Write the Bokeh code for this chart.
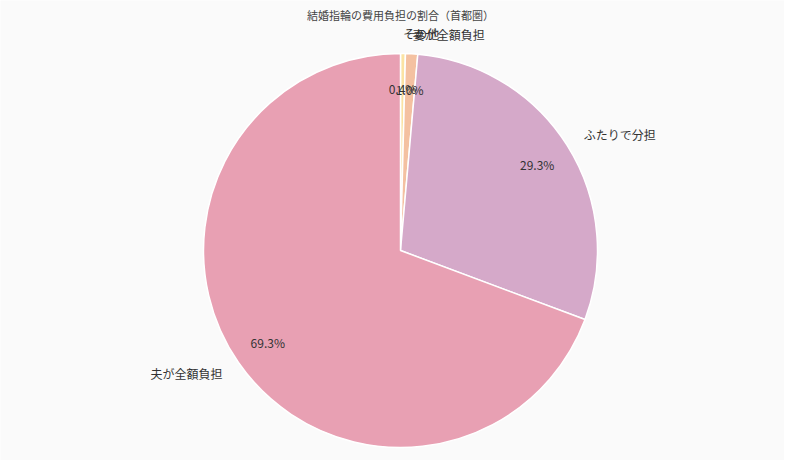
import numpy as np
from bokeh.plotting import figure
from bokeh.models import ColumnDataSource
from bokeh.core.properties import value
from bokeh.embed import file_html
from bokeh.resources import INLINE

# data (clockwise from 12 o'clock)
labels = ["その他", "妻が全額負担", "ふたりで分担", "夫が全額負担"]
shares = [0.4, 1.0, 29.3, 69.3]
colors = ["#fbe3a2", "#f4c1a1", "#d5a9c9", "#e8a0b3"]
title = "結婚指輪の費用負担の割合（首都圏）"

W, H = 784, 460
cx, cy, R = 400, H - 250, 197
font = value("Noto Sans CJK JP")

frac = np.array(shares) / sum(shares)
ends = np.pi / 2 - 2 * np.pi * np.cumsum(frac)
starts = np.concatenate([[np.pi / 2], ends[:-1]])
mids = (starts + ends) / 2

src = ColumnDataSource(dict(
    label=labels, color=colors, start=ends, end=starts,
    pct=[f"{s:.1f}%" for s in shares],
    px=cx + 0.82 * R * np.cos(mids), py=cy + 0.82 * R * np.sin(mids),
    lx=cx + 1.1 * R * np.cos(mids), ly=cy + 1.1 * R * np.sin(mids),
    align=["left" if np.cos(m) >= 0 else "right" for m in mids],
))

p = figure(width=W, height=H, x_range=(0, W), y_range=(0, H),
           output_backend="svg", toolbar_location=None, min_border=0)
p.background_fill_color = "#fafafa"
p.border_fill_color = "#fafafa"
p.outline_line_color = None
p.axis.visible = False
p.grid.visible = False

p.wedge(x=cx, y=cy, radius=R, start_angle="start", end_angle="end",
        fill_color="color", line_color="white", line_width=1.5, source=src)

p.text(x="px", y="py", text="pct", source=src, text_font=font,
       text_font_size="12px", text_color="#333333",
       text_align="center", text_baseline="middle")
p.text(x="lx", y="ly", text="label", source=src, text_font=font,
       text_font_size="12px", text_color="#333333",
       text_align="align", text_baseline="middle")

p.text(x=[400], y=[H - 14], text=[title], text_font=font,
       text_font_size="11px", text_color="#444444",
       text_align="center", text_baseline="middle")

open("out.html", "w").write(file_html(p, INLINE))
